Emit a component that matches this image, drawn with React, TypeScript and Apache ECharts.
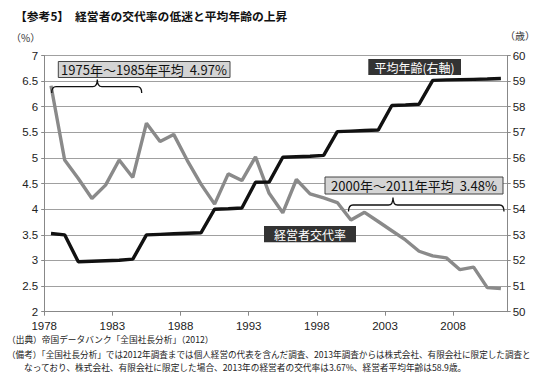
import React, { useEffect, useRef } from "react";
import * as echarts from "echarts";

const years = [
  "1978","1979","1980","1981","1982","1983","1984","1985","1986","1987",
  "1988","1989","1990","1991","1992","1993","1994","1995","1996","1997",
  "1998","1999","2000","2001","2002","2003","2004","2005","2006","2007",
  "2008","2009","2010","2011",
];

// 経営者交代率 (%), left axis
const turnoverRate = [
  6.41, 4.96, 4.6, 4.21, 4.47, 4.96, 4.62, 5.68, 5.32, 5.46,
  4.95, 4.49, 4.1, 4.69, 4.56, 5.02, 4.31, 3.93, 4.58, 4.3,
  4.22, 4.13, 3.79, 3.94, 3.76, 3.58, 3.4, 3.18, 3.09, 3.05,
  2.82, 2.87, 2.47, 2.45,
];

// 平均年齢 (歳), right axis
const averageAge = [
  53.05, 53.0, 51.95, 51.97, 51.99, 52.01, 52.05, 53.0, 53.02, 53.04,
  53.06, 53.08, 54.0, 54.02, 54.05, 55.05, 55.06, 56.03, 56.05, 56.07,
  56.1, 57.03, 57.05, 57.07, 57.09, 58.05, 58.07, 58.1, 59.03, 59.05,
  59.06, 59.07, 59.08, 59.1,
];

const xTickLabels = ["1978", "1983", "1988", "1993", "1998", "2003", "2008"];

const FONT = "'Noto Sans CJK JP', 'Noto Sans', sans-serif";
const NUM_FONT = "'Liberation Sans', Arial, sans-serif";

echarts.graphic.registerShape(
  "brace1",
  echarts.graphic.extendPath(
    "M51.7 93 Q51.7 86.7 56 86.7 L92.8 86.7 Q97.3 86.7 97.3 79.5 Q97.3 86.7 101.8 86.7 L137.2 86.7 Q141.7 86.7 141.7 93",
    {}
  )
);
echarts.graphic.registerShape(
  "brace2",
  echarts.graphic.extendPath(
    "M348.5 211.5 Q348.5 205 353 205 L388.5 205 Q393 205 393 197.5 Q393 205 397.5 205 L499.5 205 Q504 205 504 211.5",
    {}
  )
);

export default function App() {
  const ref = useRef<HTMLDivElement>(null);
  useEffect(() => {
    if (!ref.current) return;
    const chart = echarts.init(ref.current, undefined, { renderer: "svg" });
    const axisLabelStyle = { color: "#222", fontSize: 11.5, lineHeight: 12, fontFamily: NUM_FONT };
    chart.setOption({
      animation: false,
      backgroundColor: "#fff",
      grid: { left: 44.2, right: 42.3, top: 55.5, bottom: 75.3 },
      xAxis: [
        { type: "category", data: years, boundaryGap: true, show: false },
        {
          type: "value",
          min: 0,
          max: 34,
          interval: 5,
          position: "bottom",
          axisLine: { show: true, lineStyle: { color: "#888", width: 1 } },
          axisTick: { show: true, length: 4, lineStyle: { color: "#888" } },
          splitLine: { show: false },
          axisLabel: {
            ...axisLabelStyle,
            margin: 8,
            showMaxLabel: false,
            formatter: (v: number) => xTickLabels[Math.round(v / 5)] ?? "",
          },
        },
      ],
      yAxis: [
        {
          type: "value",
          min: 2,
          max: 7,
          interval: 0.5,
          position: "left",
          axisLine: { show: true, lineStyle: { color: "#888", width: 1 } },
          axisTick: { show: true, length: 3, lineStyle: { color: "#888" } },
          splitLine: { show: true, lineStyle: { color: "#a0a0a0", width: 1 } },
          axisLabel: { ...axisLabelStyle, margin: 6 },
        },
        {
          type: "value",
          min: 50,
          max: 60,
          interval: 1,
          position: "right",
          axisLine: { show: true, lineStyle: { color: "#888", width: 1 } },
          axisTick: { show: true, length: 3, lineStyle: { color: "#888" } },
          splitLine: { show: false },
          axisLabel: { ...axisLabelStyle, margin: 5 },
        },
      ],
      series: [
        {
          name: "経営者交代率",
          type: "line",
          xAxisIndex: 0,
          yAxisIndex: 0,
          data: turnoverRate,
          symbol: "none",
          lineStyle: { color: "#8a8a8a", width: 3.4 },
          z: 3,
        },
        {
          name: "平均年齢",
          type: "line",
          xAxisIndex: 0,
          yAxisIndex: 1,
          data: averageAge,
          symbol: "none",
          lineStyle: { color: "#111", width: 3.4 },
          z: 4,
        },
      ],
      graphic: [
        {
          type: "text",
          left: 15,
          top: 10,
          z: 50,
          style: {
            text: "【参考5】　経営者の交代率の低迷と平均年齢の上昇",
            fontSize: 11.8,
            fontWeight: "bold",
            fontFamily: FONT,
            fill: "#111",
          },
        },
        {
          type: "text",
          x: 11,
          y: 37,
          z: 50,
          style: { text: "（%）", fontSize: 10, fontFamily: FONT, fill: "#333", verticalAlign: "middle" },
        },
        {
          type: "text",
          x: 520,
          y: 35,
          z: 50,
          style: { text: "（歳）", fontSize: 10, fontFamily: FONT, fill: "#333", align: "center", verticalAlign: "middle" },
        },
        {
          type: "rect",
          z: 50,
          shape: { x: 58.3, y: 61.5, width: 171.7, height: 16 },
          style: { fill: "#d4d4d4", stroke: "#444", lineWidth: 1 },
        },
        {
          type: "text",
          x: 144,
          y: 69.8,
          z: 51,
          style: {
            text: "1975年〜1985年平均  4.97%",
            fontSize: 13,
            fontFamily: FONT,
            fill: "#111",
            align: "center",
            verticalAlign: "middle",
          },
        },
        {
          type: "brace1",
          z: 50,
          style: { fill: "none", stroke: "#111", lineWidth: 1.3 },
        },
        {
          type: "rect",
          z: 50,
          shape: { x: 325, y: 177, width: 178, height: 17 },
          style: { fill: "#d4d4d4", stroke: "#444", lineWidth: 1 },
        },
        {
          type: "text",
          x: 414,
          y: 185.8,
          z: 51,
          style: {
            text: "2000年〜2011年平均  3.48%",
            fontSize: 13,
            fontFamily: FONT,
            fill: "#111",
            align: "center",
            verticalAlign: "middle",
          },
        },
        {
          type: "brace2",
          z: 50,
          style: { fill: "none", stroke: "#111", lineWidth: 1.3 },
        },
        {
          type: "rect",
          z: 50,
          shape: { x: 368.3, y: 59, width: 92.7, height: 16 },
          style: { fill: "#333", stroke: "none" },
        },
        {
          type: "text",
          x: 414.6,
          y: 67.2,
          z: 51,
          style: {
            text: "平均年齢(右軸)",
            fontSize: 12,
            fontFamily: FONT,
            fill: "#fff",
            align: "center",
            verticalAlign: "middle",
          },
        },
        {
          type: "rect",
          z: 50,
          shape: { x: 264, y: 226, width: 92, height: 16.3 },
          style: { fill: "#333", stroke: "none" },
        },
        {
          type: "text",
          x: 310,
          y: 234.4,
          z: 51,
          style: {
            text: "経営者交代率",
            fontSize: 12,
            fontFamily: FONT,
            fill: "#fff",
            align: "center",
            verticalAlign: "middle",
          },
        },
        {
          type: "text",
          x: 7,
          y: 339.5,
          z: 50,
          style: {
            text: "（出典）帝国データバンク「全国社長分析」（2012）",
            fontSize: 8.7,
            fontFamily: FONT,
            fill: "#222",
            verticalAlign: "middle",
          },
        },
        {
          type: "text",
          x: 7,
          y: 353.5,
          z: 50,
          style: {
            text: "（備考）「全国社長分析」では2012年調査までは個人経営の代表を含んだ調査、2013年調査からは株式会社、有限会社に限定した調査と",
            fontSize: 8.6,
            fontFamily: FONT,
            fill: "#222",
            verticalAlign: "middle",
          },
        },
        {
          type: "text",
          x: 24,
          y: 367.5,
          z: 50,
          style: {
            text: "なっており、株式会社、有限会社に限定した場合、2013年の経営者の交代率は3.67%、経営者平均年齢は58.9歳。",
            fontSize: 8.7,
            fontFamily: FONT,
            fill: "#222",
            verticalAlign: "middle",
          },
        },
      ],
    });
    return () => chart.dispose();
  }, []);
  return (
    <div
      ref={ref}
      style={{ position: "absolute", left: 0, top: 0, width: 550, height: 387 }}
    />
  );
}
